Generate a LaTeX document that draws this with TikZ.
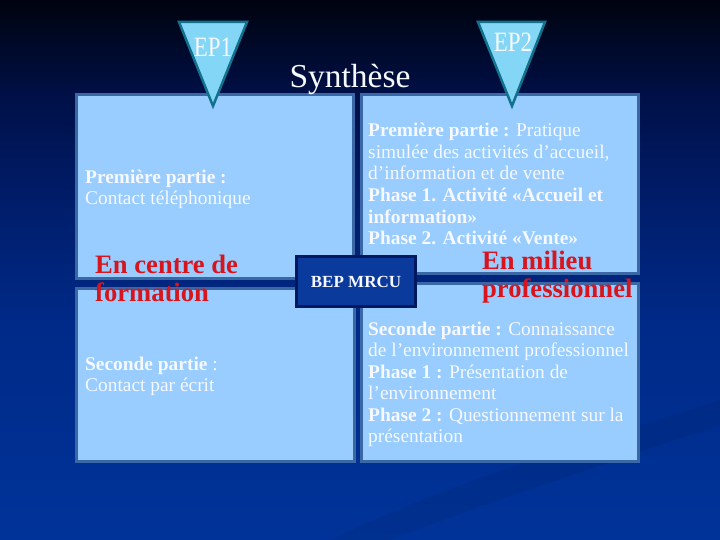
\documentclass[tikz,border=0pt]{standalone}
\usepackage{fontspec}
\setmainfont{Liberation Serif}
\definecolor{bgbot}{HTML}{003399}
\definecolor{bgmid}{HTML}{002A88}
\definecolor{bgmid2}{HTML}{001C68}
\definecolor{bgmid3}{HTML}{001048}
\definecolor{bgtop}{HTML}{00030E}
\definecolor{boxfill}{HTML}{99CCFF}
\definecolor{boxline}{HTML}{3A68A6}
\definecolor{trifill}{HTML}{84D6F6}
\definecolor{triline}{HTML}{12718C}
\definecolor{redtxt}{HTML}{D8141C}
\definecolor{bepfill}{HTML}{0A3A9C}
\definecolor{bepline}{HTML}{00185E}
\definecolor{wtxt}{HTML}{F6F9FF}
\pgfdeclareverticalshading{bgshade}{100bp}{color(0bp)=(bgbot); color(25bp)=(bgbot); color(45bp)=(bgmid); color(57bp)=(bgmid2); color(66bp)=(bgmid3); color(75bp)=(bgtop); color(100bp)=(bgtop)}
\tikzset{
  qbox/.style={draw=boxline, fill=boxfill, line width=3pt, inner sep=0pt},
  tri/.style={draw=triline, fill=trifill, line width=2.5pt, line join=miter},
  body/.style={anchor=base west, inner sep=0pt, text=wtxt, font=\fontsize{19.4}{21}\selectfont},
  redt/.style={anchor=base west, inner sep=0pt, text=redtxt, font=\fontsize{26.6}{28}\selectfont\bfseries},
  eptxt/.style={inner sep=0pt, text=wtxt, font=\fontsize{28}{28}\selectfont, xscale=0.82},
}
\begin{document}
\begin{tikzpicture}[x=1pt,y=-1pt]
\useasboundingbox (0,0) rectangle (720,540);
\shade[shading=bgshade] (0,0) rectangle (720,540);
% faint swoosh
\fill[black, opacity=0.06] (330,540) .. controls (480,470) and (600,440) .. (720,400) -- (720,425) .. controls (600,465) and (480,505) .. (390,540) -- cycle;
% boxes
\node[qbox, minimum width=277pt, minimum height=184pt] (tl) at (215,186.5) {};
\node[qbox, minimum width=278pt, minimum height=173pt] (bl) at (215.5,375) {};
\node[qbox, minimum width=277pt, minimum height=179pt] (tr) at (500,184) {};
\node[qbox, minimum width=277pt, minimum height=178pt] (br) at (500,372.5) {};
% triangles
\draw[tri] (179,22) -- (247,22) -- (213,106) -- cycle;
\draw[tri] (478,22) -- (545,22) -- (512,106) -- cycle;
\node[eptxt] (ep1) at (213,47) {EP1};
\node[eptxt] (ep2) at (513,42) {EP2};
\node[inner sep=0pt, text=wtxt, font=\fontsize{33.5}{33.5}\selectfont] (syn) at (350,79) {Synthèse};
% top-left
\node[body] (tl1) at (85,184) {\textbf{Première partie :}};
\node[body] (tl2) at (85,205) {Contact téléphonique};
% bottom-left
\node[body] (bl1) at (85,370) {\textbf{Seconde partie} :};
\node[body] (bl2) at (85,391) {Contact par écrit};
% top-right
\node[body] (tr1) at (368,137) {\textbf{Première partie :} Pratique};
\node[body] (tr2) at (368,158.5) {simulée des activités d’accueil,};
\node[body] (tr3) at (368,180) {d’information et de vente};
\node[body] (tr4) at (368,201.5) {\textbf{Phase 1. Activité «Accueil et}};
\node[body] (tr5) at (368,223) {\textbf{information»}};
\node[body] (tr6) at (368,244.5) {\textbf{Phase 2. Activité «Vente»}};
% bottom-right
\node[body] (br1) at (368,335) {\textbf{Seconde partie :} Connaissance};
\node[body] (br2) at (368,356.5) {de l’environnement professionnel};
\node[body] (br3) at (368,378) {\textbf{Phase 1 :} Présentation de};
\node[body] (br4) at (368,399.5) {l’environnement};
\node[body] (br5) at (368,421) {\textbf{Phase 2 :} Questionnement sur la};
\node[body] (br6) at (368,442.5) {présentation};
% red labels
\node[redt] (r1) at (95,273) {En centre de};
\node[redt] (r2) at (95,301) {formation};
\node[redt] (r3) at (482,269) {En milieu};
\node[redt] (r4) at (482,297) {professionnel};
% centre box
\node[draw=bepline, fill=bepfill, line width=3pt, minimum width=119pt, minimum height=50pt, inner sep=0pt, text=wtxt, font=\fontsize{17}{17}\selectfont\bfseries] (bep) at (356,281.5) {BEP MRCU};
\end{tikzpicture}
\end{document}
